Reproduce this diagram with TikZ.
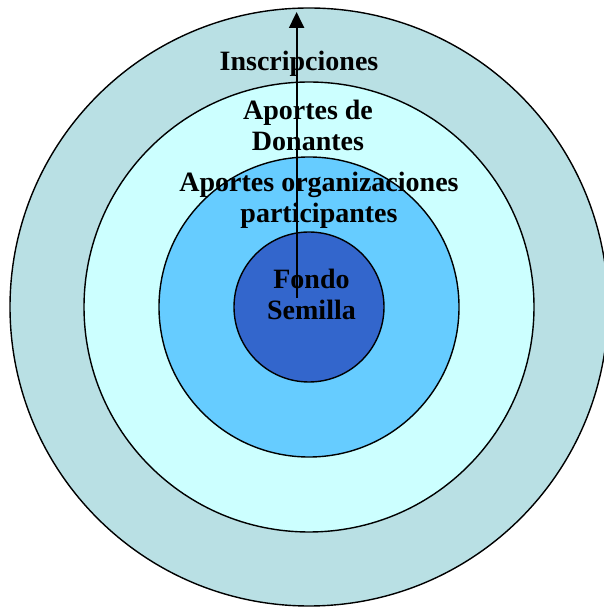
\documentclass[tikz,border=0pt]{standalone}
\usepackage{fontspec}
\setmainfont{Liberation Serif}
\usepackage{tikz}
\usepackage{xcolor}
\usetikzlibrary{arrows.meta}
\definecolor{ring-outer}{RGB}{185,224,228}
\definecolor{ring-donors}{RGB}{204,255,255}
\definecolor{ring-orgs}{RGB}{102,204,255}
\definecolor{ring-seed}{RGB}{51,102,204}
\tikzset{
    ring/.style = {draw=black, line width=1.4pt, circle, inner sep=0pt},
    ring-label/.style = {font=\bfseries\fontsize{28}{31}\selectfont, align=center, inner sep=0pt},
}

\begin{document}
\begin{tikzpicture}[x=1pt, y=1pt]
\clip (0,0) rectangle (604,608);
\fill[white] (0,0) rectangle (604,608);
\node [ring, fill=ring-outer, minimum size=598pt] (inscripciones) at (309,301) {};
\node [ring, fill=ring-donors, minimum size=450pt] (donantes) at (309,301) {};
\node [ring, fill=ring-orgs, minimum size=300pt] (organizaciones) at (309,301) {};
\node [ring, fill=ring-seed, minimum size=150pt] (semilla) at (309,301) {};
\coordinate (arrow-foot) at (296.6,310);
\coordinate (arrow-tip) at (296.6,596);
\node [ring-label, anchor=base] (inscripciones-label) at (299,537.5) {Inscripciones};
\node [ring-label] (donantes-label) at (308,482.5) {Aportes de\\Donantes};
\node [ring-label] (organizaciones-label) at (319,408) {Aportes organizaciones\\participantes};
\node [ring-label] (semilla-label) at (311.5,313.5) {Fondo\\Semilla};
\draw [line width=2pt, -{Triangle[length=16pt, width=15pt]}] (arrow-foot) -- (arrow-tip);
\end{tikzpicture}
\end{document}
